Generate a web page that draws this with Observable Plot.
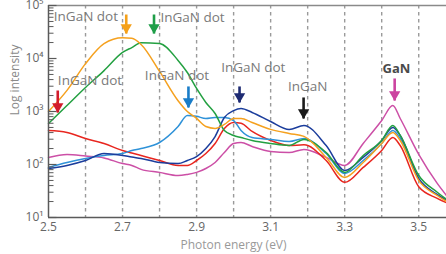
<!DOCTYPE html>
<html><head><meta charset="utf-8">
<script src="https://cdn.jsdelivr.net/npm/d3@7"></script>
<script src="https://cdn.jsdelivr.net/npm/@observablehq/plot@0.6"></script>
<style>
body{margin:0;background:#fff;}
#chart svg{font-family:"Open Sans",sans-serif;}
</style>
</head><body><div id="chart"></div>
<script>
// Photon energy (eV) sample points
const energy = [2.50, 2.55, 2.60, 2.65, 2.70, 2.725, 2.75, 2.80, 2.85, 2.875, 2.90, 2.925, 2.95, 2.975, 3.00, 3.02, 3.05, 3.10, 3.15, 3.19, 3.25, 3.30, 3.35, 3.40, 3.43, 3.45, 3.50, 3.55, 3.575];
// Intensity series
const orangeSeries = [1000, 2500, 8000, 19000, 24500, 24000, 18400, 5700, 1600, 1000, 740, 520, 480, 570, 740, 740, 620, 460, 385, 340, 136, 57, 109, 249, 402, 284, 50, 26, 20];
const greenSeries  = [595, 1300, 2840, 5900, 13000, 16100, 19900, 19200, 9200, 5440, 2720, 1480, 916, 438, 353, 323, 284, 249, 228, 297, 168, 71, 148, 284, 545, 353, 62, 30, 22];
const redSeries    = [438, 402, 310, 249, 184, 165, 148, 119, 96, 96, 119, 161, 249, 477, 620, 600, 420, 284, 228, 235, 119, 46, 88, 184, 323, 228, 38, 23, 19];
const lightBlueSeries = [88, 109, 130, 148, 161, 184, 200, 260, 520, 842, 810, 738, 770, 770, 676, 438, 323, 297, 272, 310, 161, 68, 119, 249, 438, 310, 54, 27, 21];
const navySeries   = [84, 96, 119, 161, 148, 138, 130, 109, 104, 119, 141, 200, 337, 770, 1040, 1140, 960, 647, 457, 545, 228, 77, 136, 284, 499, 353, 54, 27, 21];
const magentaSeries = [136, 155, 145, 133, 104, 96, 81, 71, 62, 65, 71, 84, 109, 168, 249, 260, 219, 176, 168, 192, 136, 96, 250, 676, 1300, 738, 155, 44, 26];

const seriesNames  = ["magenta", "red", "lightblue", "navy", "green", "orange"];
const seriesValues = [magentaSeries, redSeries, lightBlueSeries, navySeries, greenSeries, orangeSeries];
const seriesColors = ["#cc4fa6", "#e8261f", "#2f92d8", "#1b3d9c", "#23a041", "#f5a11f"];

// Annotations
const labelText = ["InGaN dot", "InGaN dot", "InGaN dot", "InGaN dot", "InGaN dot", "InGaN", "GaN"];
const labelX = [2.601, 2.889, 2.612, 2.847, 3.053, 3.200, 3.440];
const labelY = [62000, 59500, 3850, 4780, 6760, 2970, 6480];
const arrowX = [2.710, 2.785, 2.525, 2.878, 3.016, 3.189, 3.435];
const arrowTop = [67600, 67600, 2490, 2970, 2970, 1840, 4200];
const arrowTip = [29600, 29600, 960, 1190, 1480, 738, 1610];
const arrowColors = ["#f5a019", "#1f9e48", "#d31c2c", "#1a7dc8", "#1e2b73", "#1a1a1a", "#cc44a0"];

// Axis ticks
const xTickLabels = [2.5, 2.7, 2.9, 3.1, 3.3, 3.5];
const xGrid = [2.6, 2.7, 2.8, 2.9, 3.0, 3.1, 3.2, 3.3, 3.4, 3.5];
const yMajor = [10, 100, 1000, 10000, 100000];
const yMinorMult = [2, 3, 4, 5, 6, 7, 8, 9];
const yMinor = [10, 100, 1000, 10000].flatMap(d => yMinorMult.map(m => d * m));

const rows = [];
seriesNames.forEach((s, i) => energy.forEach((e, j) => rows.push({s, e, v: seriesValues[i][j]})));
const labels = labelText.map((t, i) => ({t, x: labelX[i], y: labelY[i], bold: t === "GaN"}));
const arrows = arrowX.map((x, i) => ({x, top: arrowTop[i], tip: arrowTip[i], c: arrowColors[i]}));

const sup = {1: "¹", 2: "²", 3: "³", 4: "⁴", 5: "⁵"};
const tickMajor = {draw(ctx) { ctx.moveTo(0, 0); ctx.lineTo(8, 0); }};
const tickMinor = {draw(ctx) { ctx.moveTo(0, 0); ctx.lineTo(5, 0); }};

const plot = Plot.plot({
  width: 446,
  height: 254,
  marginLeft: 48,
  marginRight: 0,
  marginTop: 5,
  marginBottom: 37,
  style: {color: "#666", fontSize: "12px", fontFamily: "'Open Sans', sans-serif", background: "#fff"},
  x: {domain: [2.5, 3.575]},
  y: {type: "log", domain: [10, 100000]},
  marks: [
    Plot.ruleX(xGrid, {stroke: "#9a9a9a", strokeWidth: 1.4, strokeDasharray: "3.5,3.5"}),
    ...seriesNames.map((s, i) => Plot.line(rows.filter(r => r.s === s), {
      x: "e", y: "v", stroke: seriesColors[i], strokeWidth: 1.5, curve: "monotone-x"
    })),
    Plot.ruleY([100000], {stroke: "#8a8a8a", strokeWidth: 1.5}),
    Plot.ruleY([10], {stroke: "#5a5a5a", strokeWidth: 1.5}),
    Plot.ruleX([2.5], {stroke: "#5a5a5a", strokeWidth: 1.5}),
    Plot.dot(yMajor, {x: () => 2.5, y: d => d, symbol: tickMajor, fill: "none", stroke: "#5a5a5a", strokeWidth: 1.2}),
    Plot.dot(yMinor, {x: () => 2.5, y: d => d, symbol: tickMinor, fill: "none", stroke: "#5a5a5a", strokeWidth: 1}),
    Plot.axisX({ticks: xTickLabels, tickSize: 0, tickPadding: 5, tickFormat: d => d.toFixed(1), fontSize: 12, fill: "#666"}),
    Plot.axisY({ticks: yMajor, tickSize: 0, tickPadding: 5, tickFormat: d => "10" + sup[Math.round(Math.log10(d))], fontSize: 12, fill: "#666"}),
    Plot.text(["Log intensity"], {frameAnchor: "left", dx: -33, dy: 4, rotate: -90, fontSize: 12, fill: "#8a8a8a"}),
    Plot.text(["Photon energy (eV)"], {frameAnchor: "bottom", dx: -14, dy: 31, fontSize: 12, fill: "#999"}),
    Plot.link(arrows, {x1: "x", x2: "x", y1: "top", y2: "tip", stroke: "c", strokeWidth: 2.6}),
    Plot.dot(arrows, {x: "x", y: "tip", symbol: "triangle", rotate: 180, r: 4.2, fill: "c", stroke: "none", dy: -6}),
    Plot.text(labels.filter(d => !d.bold), {x: "x", y: "y", text: "t", fontSize: 13.5, fill: "#7a7a7a"}),
    Plot.text(labels.filter(d => d.bold), {x: "x", y: "y", text: "t", fontSize: 13, fontWeight: "bold", fill: "#4a4a4a"})
  ]
});
document.getElementById("chart").appendChild(plot);
</script>
</body></html>
